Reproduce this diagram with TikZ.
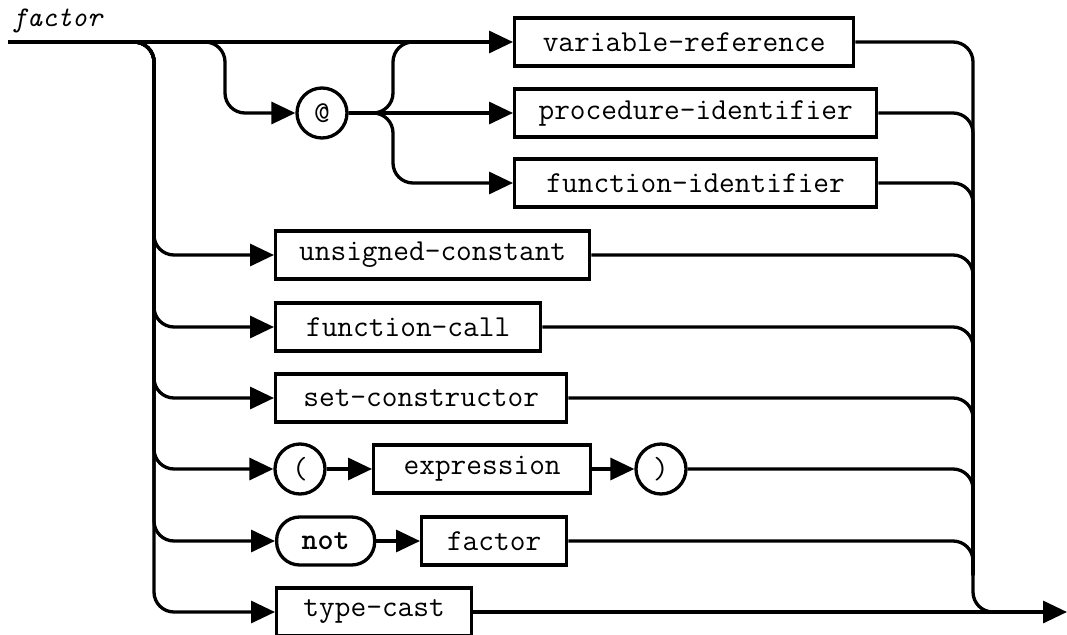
\documentclass[tikz,border=0pt]{standalone}
\usepackage{fontspec}
\usetikzlibrary{arrows.meta,calc}
\begin{document}
\begin{tikzpicture}[x=1pt,y=-1pt,
  line/.style={line width=3.3pt},
  arr/.style={line width=3.3pt,-{Triangle[length=24pt,width=22pt]}},
  rc/.style={rounded corners=20pt},
  lbl/.style={font=\ttfamily\fontsize{30.5}{34}\selectfont},
  box/.style={lbl,draw,line width=3.3pt,rectangle,minimum height=48pt,inner sep=0pt,anchor=west},
  circ/.style={lbl,draw,line width=3.3pt,circle,minimum size=50pt,inner sep=0pt},
  stad/.style={lbl,draw,line width=3.3pt,rectangle,rounded corners=23pt,minimum height=48pt,inner sep=0pt,anchor=west}
]
\useasboundingbox (0,0) rectangle (1067,634);

% title
\node[anchor=base west,inner sep=0pt,font=\ttfamily\itshape\fontsize{28.5}{32}\selectfont] (title) at (12,27) {factor};

% nodes
\node[box,minimum width=339pt] (vr) at (513,42) {variable-reference};
\node[box,minimum width=362pt] (pi) at (513,113) {procedure-identifier};
\node[box,minimum width=362pt] (fi) at (513,183) {function-identifier};
\node[circ] (at) at (322,113) {@};
\node[box,minimum width=314pt] (uc) at (274,255) {unsigned-constant};
\node[box,minimum width=265pt] (fc) at (274,327) {function-call};
\node[box,minimum width=291pt] (sc) at (274,398) {set-constructor};
\node[circ] (lp) at (300,469) {(};
\node[box,minimum width=217pt] (ex) at (372,469) {expression};
\node[circ] (rp) at (661,469) {)};
\node[stad,minimum width=98pt] (nt) at (275,541) {\bfseries not};
\node[box,minimum width=145pt] (fa) at (420,541) {factor};
\node[box,minimum width=195pt] (tc) at (275,612) {type-cast};

% coordinates
\coordinate (in) at (8,42);
\coordinate (Lpre) at (110,42);
\coordinate (Ltop) at (154,42);
\coordinate (Apre) at (190,42);
\coordinate (Atop) at (225,42);
\coordinate (F) at (393,113);
\coordinate (Ftop) at (393,42);
\coordinate (Fpost) at (445,42);
\coordinate (Rtop) at (973,42);
\coordinate (Rmid) at (973,575);
\coordinate (Rbot) at (973,612);
\coordinate (Rend) at (1020,612);
\coordinate (out) at (1067,612);

% main line
\draw[arr] (in) -- (vr.west);

% @ branch
\draw[arr,rc] (Apre) -- (Atop) |- (at.west);
\draw[line,rc] (at.east) -- (F) -- (Ftop) -- (Fpost);
\draw[arr] (at.east) -- (pi.west);
\draw[arr,rc] (at.east) -- (F) |- (fi.west);

% left branches
\foreach \n in {uc,fc,sc,lp,nt,tc}
  \draw[arr,rc] (Lpre) -- (Ltop) |- (\n.west);

% inner connections
\draw[arr] (lp.east) -- (ex.west);
\draw[arr] (ex.east) -- (rp.west);
\draw[arr] (nt.east) -- (fa.west);

% right side
\draw[line,rc] (vr.east) -- (Rtop) -- (Rbot) -- (Rend);
\foreach \n in {pi,fi,uc,fc,sc,rp,fa}
  \draw[line,rc] (\n.east) -| (Rmid);
\draw[arr] (tc.east) -- (out);
\end{tikzpicture}
\end{document}
